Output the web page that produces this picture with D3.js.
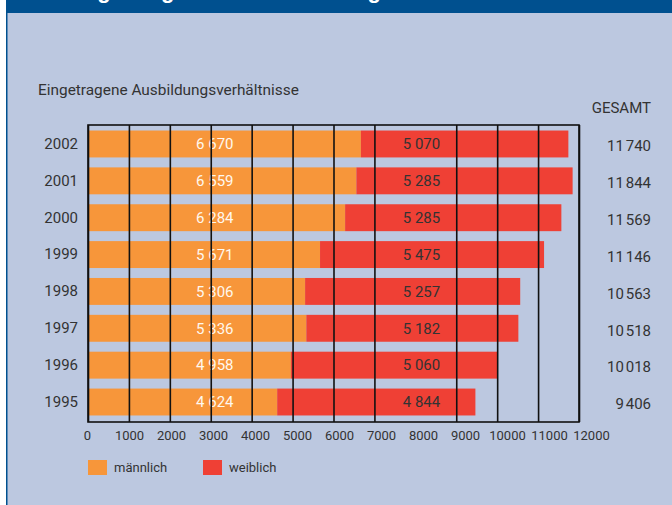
<!DOCTYPE html>
<html>
<head>
<meta charset="utf-8">
<script src="https://cdn.jsdelivr.net/npm/d3@7"></script>
<style>
    body { margin:0; background:#ffffff; }
    svg text { font-family: Roboto, "Noto Sans", sans-serif; }
</style>
</head>
<body>
<svg id="chart"></svg>
<script>
var years = ["2002","2001","2000","1999","1998","1997","1996","1995"];
var male = [6670,6559,6284,5671,5306,5336,4958,4624];
var female = [5070,5285,5285,5475,5257,5182,5060,4844];
var totals = [11740,11844,11569,11146,10563,10518,10018,9406];
var tickValues = [0,1000,2000,3000,4000,5000,6000,7000,8000,9000,10000,11000,12000];
// the 8000 line is not drawn in the original
var gridValues = [0,1000,2000,3000,4000,5000,6000,7000,9000,10000,11000,12000];
var legendNames = ["männlich","weiblich"];

var screen = {width:672, height:505};
var colors = {male:"#f7963a", female:"#ef4035", bg:"#bcc8e0", navy:"#00508f", ink:"#333333"};

// bar labels use a normal space, totals a narrow one
var fmtBar = function(v)
    {
        return d3.format(",")(v).replace(/,/g, " ");
    };
var fmtTotal = function(v)
    {
        return d3.format(",")(v).replace(/,/g, "\u202f");
    };

var setup = function()
    {
        var svg = d3.select("#chart")
            .attr("width", screen.width)
            .attr("height", screen.height);

        // background panel + navy banner
        svg.append("rect")
            .attr("x", 7).attr("y", 0)
            .attr("width", screen.width - 7).attr("height", screen.height)
            .attr("fill", colors.bg);
        svg.append("rect")
            .attr("x", 6).attr("y", 0)
            .attr("width", 1.5).attr("height", screen.height)
            .attr("fill", colors.navy);
        svg.append("rect")
            .attr("x", 6).attr("y", 0)
            .attr("width", screen.width - 6).attr("height", 13)
            .attr("fill", colors.navy);
        svg.append("text")
            .attr("x", 24).attr("y", -2)
            .attr("fill", "#ffffff")
            .style("font-family", "'Liberation Sans', Arial, sans-serif")
            .style("font-weight", "bold")
            .style("font-size", "22px")
            .text("Lehrlinge insgesamt: Entwicklung");

        svg.append("text")
            .attr("x", 38).attr("y", 95)
            .attr("fill", colors.ink)
            .style("font-size", "15.4px")
            .text("Eingetragene Ausbildungsverhältnisse");

        var xscale = d3.scaleLinear()
                        .domain([0,12000])
                        .range([88,579]);
        var xlabels = d3.scaleLinear()
                        .domain([0,12000])
                        .range([87,591]);
        var yscale = d3.scaleBand()
                        .domain(years)
                        .range([125,421])
                        .paddingInner(0.27)
                        .paddingOuter(0.15);

        var rows = years.map(function(y,i)
            {
                return {year:y, male:male[i], female:female[i], total:totals[i]};
            });

        var bars = svg.append("g").attr("id", "bars");
        bars.selectAll(".male")
            .data(rows)
            .enter()
            .append("rect")
            .attr("class", "male")
            .attr("x", xscale(0))
            .attr("y", function(d){ return yscale(d.year); })
            .attr("width", function(d){ return xscale(d.male) - xscale(0); })
            .attr("height", yscale.bandwidth())
            .attr("fill", colors.male);
        bars.selectAll(".female")
            .data(rows)
            .enter()
            .append("rect")
            .attr("class", "female")
            .attr("x", function(d){ return xscale(d.male); })
            .attr("y", function(d){ return yscale(d.year); })
            .attr("width", function(d){ return xscale(d.male + d.female) - xscale(d.male); })
            .attr("height", yscale.bandwidth())
            .attr("fill", colors.female);

        var mid = function(d){ return yscale(d.year) + yscale.bandwidth()/2; };

        bars.selectAll(".mlab")
            .data(rows)
            .enter()
            .append("text")
            .attr("class", "mlab")
            .attr("x", xscale(3100))
            .attr("y", mid)
            .attr("dy", "0.35em")
            .attr("text-anchor", "middle")
            .attr("fill", "#fff8ee")
            .style("font-size", "15px")
            .text(function(d){ return fmtBar(d.male); });
        bars.selectAll(".flab")
            .data(rows)
            .enter()
            .append("text")
            .attr("class", "flab")
            .attr("x", xscale(8150))
            .attr("y", mid)
            .attr("dy", "0.35em")
            .attr("text-anchor", "middle")
            .attr("fill", colors.ink)
            .style("font-size", "15px")
            .text(function(d){ return fmtBar(d.female); });

        // grid lines drawn over the bars
        var grid = d3.axisBottom(xscale)
                        .tickValues(gridValues)
                        .tickSize(-(422-125))
                        .tickFormat("");
        svg.append("g")
            .attr("id", "grid")
            .attr("transform", "translate(0,422)")
            .call(grid)
            .call(function(g){ g.select(".domain").remove(); })
            .selectAll("line")
            .attr("stroke", "#111111")
            .attr("stroke-width", 1.6);
        svg.append("rect")
            .attr("x", xscale(0)).attr("y", 125)
            .attr("width", xscale(12000) - xscale(0)).attr("height", 422-125)
            .attr("fill", "none")
            .attr("stroke", "#111111")
            .attr("stroke-width", 1.6);

        var xAxis = d3.axisBottom(xlabels)
                        .tickValues(tickValues)
                        .tickSize(0)
                        .tickPadding(0)
                        .tickFormat(d3.format("d"));
        svg.append("g")
            .attr("id", "xAxis")
            .attr("transform", "translate(0,431)")
            .call(xAxis)
            .call(function(g){ g.select(".domain").remove(); })
            .selectAll("text")
            .attr("fill", colors.ink)
            .style("font-size", "13px")
            .style("font-family", "Roboto, sans-serif");

        var yAxis = d3.axisLeft(yscale).tickSize(0).tickPadding(0);
        svg.append("g")
            .attr("id", "yAxis")
            .attr("transform", "translate(78,0)")
            .call(yAxis)
            .call(function(g){ g.select(".domain").remove(); })
            .selectAll("text")
            .attr("fill", colors.ink)
            .style("font-size", "15px")
            .style("font-family", "Roboto, sans-serif");

        svg.append("text")
            .attr("x", 651).attr("y", 113)
            .attr("text-anchor", "end")
            .attr("fill", colors.ink)
            .style("font-size", "15px")
            .text("GESAMT");
        svg.selectAll(".total")
            .data(rows)
            .enter()
            .append("text")
            .attr("class", "total")
            .attr("x", 651)
            .attr("y", function(d){ return mid(d) + 2; })
            .attr("dy", "0.35em")
            .attr("text-anchor", "end")
            .attr("fill", colors.ink)
            .style("font-size", "15px")
            .text(function(d){ return fmtTotal(d.total); });

        drawLegend(svg);
    };

var drawLegend = function(svg)
    {
        var legend = svg.append("g").attr("id", "legend");
        var items = legend.selectAll("g")
            .data(legendNames)
            .enter()
            .append("g")
            .attr("transform", function(d,i){ return "translate(" + (88 + i*115) + ",460)"; });
        items.append("rect")
            .attr("width", 19)
            .attr("height", 15)
            .attr("fill", function(d,i){ return i == 0 ? colors.male : colors.female; });
        items.append("text")
            .attr("x", 26)
            .attr("y", 12)
            .attr("fill", colors.ink)
            .style("font-size", "13px")
            .text(function(d){ return d; });
    };

setup();
</script>
</body>
</html>
